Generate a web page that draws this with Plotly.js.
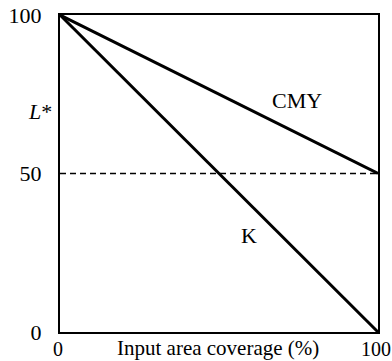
<!DOCTYPE html>
<html><head><meta charset="utf-8">
<script src="https://cdn.plot.ly/plotly-3.0.1.min.js"></script>
<style>html,body{margin:0;padding:0;background:#fff}</style>
</head><body><div id="chart" style="width:392px;height:361px"></div>
<script>
const coverage = [0, 100];
const cmyL = [100, 50];
const kL = [100, 0];
const refL = [50, 50];
const xTickVals = [0, 100];
const xTickText = ['0', '100'];
const yTickVals = [0, 50, 100];
const yTickText = ['0', '50', '100'];
const seriesLabels = ['CMY', 'K'];
const labelPos = [[74.5, 73], [59.5, 30.5]];

const fam = 'Liberation Serif, Times New Roman, serif';
const font = {family: fam, size: 22, color: '#000'};
const bottomFont = {family: fam, size: 20, color: '#000'};
const traces = [
  {x: coverage, y: refL, mode: 'lines', line: {color: '#000', width: 1.5, dash: '6px,4px'}, hoverinfo: 'skip'},
  {x: coverage, y: cmyL, mode: 'lines', name: 'CMY', line: {color: '#000', width: 3}},
  {x: coverage, y: kL, mode: 'lines', name: 'K', line: {color: '#000', width: 3}}
];
const annotations = seriesLabels.map((t, i) => ({x: labelPos[i][0], y: labelPos[i][1], text: t, showarrow: false, font: font}));
annotations.push({xref: 'paper', yref: 'paper', x: 0.497, y: 0, yshift: -16, yanchor: 'middle', text: 'Input area coverage (%)', showarrow: false, font: {family: fam, size: 21, color: '#000'}});
annotations.push({xref: 'paper', yref: 'paper', x: 0, xshift: -20, y: 0.695, xanchor: 'center', yanchor: 'middle', text: '<i>L</i>*', showarrow: false, font: font});
const layout = {
  width: 392, height: 361,
  margin: {l: 60, r: 14, t: 15, b: 29},
  paper_bgcolor: '#fff', plot_bgcolor: '#fff',
  showlegend: false,
  font: font,
  xaxis: {range: [0, 100], tickvals: xTickVals, ticktext: xTickText, tickfont: bottomFont, showgrid: false, zeroline: false,
    showline: true, mirror: true, linecolor: '#000', linewidth: 2, ticks: '', ticklabelstandoff: -2, ticklabelshift: -2,
    ticklabeloverflow: 'allow', fixedrange: true},
  yaxis: {range: [0, 100], tickvals: yTickVals, ticktext: yTickText, showgrid: false, zeroline: false,
    showline: true, mirror: true, linecolor: '#000', linewidth: 2, ticks: '', ticklabelstandoff: 12, fixedrange: true},
  annotations: annotations
};
Plotly.newPlot('chart', traces, layout, {displayModeBar: false, staticPlot: true});
</script></body></html>
